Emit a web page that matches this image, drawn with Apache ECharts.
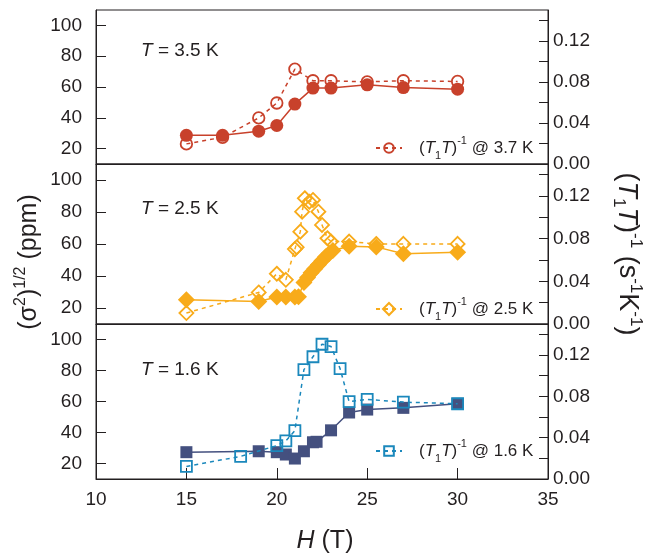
<!DOCTYPE html>
<html><head><meta charset="utf-8">
<script src="https://cdn.jsdelivr.net/npm/echarts@6/dist/echarts.min.js"></script>
<style>html,body{margin:0;padding:0;background:#fff}#c{width:666px;height:554px}</style>
</head><body><div id="c"></div>
<script>
// ---------- data ----------
const fieldTicks = [10, 15, 20, 25, 30, 35];
const sigmaTicks = [20, 40, 60, 80, 100];
const rateTicks = [0, 0.02, 0.04, 0.06, 0.08, 0.10, 0.12, 0.14];
const rateLabels = [0, 0.04, 0.08, 0.12];

// T = 3.5 K  (sigma, left axis) / 3.7 K (1/T1T, right axis)
const H_35K = [15, 17, 19, 20, 21, 22, 23, 25, 27, 30];
const sigma_35K = [28.6, 28.6, 31.3, 35.0, 48.9, 59.3, 59.3, 61.4, 59.6, 58.6];
const H_37K = [15, 17, 19, 20, 21, 22, 23, 25, 27, 30];
const rate_37K = [0.0196, 0.026, 0.0449, 0.0594, 0.0924, 0.0811, 0.0811, 0.080, 0.0811, 0.0804];

// T = 2.5 K
const H_25K = [15, 19, 20, 20.5, 21, 21.2, 21.5, 21.7, 21.9, 22.1, 22.3, 22.5, 22.7, 22.9, 23.1, 24, 25.5, 27, 30];
const sigma_25K = [25.2, 24.1, 26.9, 26.9, 26.9, 27.0, 36.0, 39.0, 42.0, 44.5, 47.0, 49.5, 52.0, 54.0, 56.0, 58.6, 58.2, 53.9, 54.9];
const H_25K_r = [15, 19, 20, 20.5, 21, 21.1, 21.3, 21.4, 21.55, 21.8, 22.0, 22.3, 22.5, 22.8, 23, 24, 25.5, 27, 30];
const rate_25K = [0.0103, 0.0296, 0.0471, 0.0414, 0.0702, 0.072, 0.0866, 0.1053, 0.1179, 0.1147, 0.1163, 0.1053, 0.0929, 0.0804, 0.0773, 0.0773, 0.075, 0.0751, 0.0751];

// T = 1.6 K
const H_16K = [15, 19, 20, 20.5, 21, 21.5, 22, 22.2, 23, 24, 25, 27, 30];
const sigma_16K = [27.3, 27.9, 27.3, 25.8, 23.2, 27.9, 33.7, 34.0, 41.4, 52.9, 54.8, 55.9, 58.5];
const H_16K_r = [15, 18, 20, 20.5, 21, 21.5, 22, 22.5, 23, 23.5, 24, 25, 27, 30];
const rate_16K = [0.0122, 0.0219, 0.0323, 0.0369, 0.0469, 0.1058, 0.1183, 0.1304, 0.1282, 0.1068, 0.0748, 0.077, 0.0744, 0.0728];

const panelTemps = ['3.5 K', '2.5 K', '1.6 K'];
const legendTemps = ['3.7 K', '2.5 K', '1.6 K'];

// ---------- styling ----------
const INK = '#231f20';
const FONT = '"Liberation Sans", Arial, Helvetica, sans-serif';
const colors = [
  { fill: '#c8412b', open: '#c8412b' },
  { fill: '#f8ab1a', open: '#f8ab1a' },
  { fill: '#44507f', open: '#1b88bc' }
];
const grids = [
  { left: 96, right: 118, top: 10, height: 154 },
  { left: 96, right: 118, top: 164, height: 160 },
  { left: 96, right: 118, top: 324, height: 155 }
];
const legendTops = [130, 291, 433];
const labelTops = [46, 204, 365];

const sets = [
  { H: H_35K, s: sigma_35K, Hr: H_37K, r: rate_37K, sym: 'circle', fs: 13, os: 11.5, li: 12, filledOnTop: true },
  { H: H_25K, s: sigma_25K, Hr: H_25K_r, r: rate_25K, sym: 'diamond', fs: 17, os: 14, li: 15, filledOnTop: true },
  { H: H_16K, s: sigma_16K, Hr: H_16K_r, r: rate_16K, sym: 'rect', fs: 12, os: 11, li: 12, filledOnTop: false }
];

const pair = (xs, ys) => xs.map((x, i) => [x, ys[i]]);
const richDefs = {
  i: { fontStyle: 'italic', fontSize: 17, fontFamily: FONT, color: INK, lineHeight: 26 },
  sub: { fontSize: 11, fontFamily: FONT, color: INK, verticalAlign: 'bottom', lineHeight: 11 },
  sup: { fontSize: 11, fontFamily: FONT, color: INK, verticalAlign: 'top', lineHeight: 11 }
};

const xAxes = [], yAxes = [], series = [], legends = [], titles = [];
grids.forEach((g, p) => {
  const bottom = p === 2;
  xAxes.push({
    type: 'value', gridIndex: p, min: 10, max: 35, interval: 5,
    axisLine: { show: true, lineStyle: { color: INK, width: 1 } },
    axisTick: { show: bottom, inside: true, length: 11, lineStyle: { color: INK } },
    axisLabel: { show: bottom, customValues: fieldTicks, fontSize: 19, fontFamily: FONT, color: INK, margin: 11 },
    splitLine: { show: false }
  });
  yAxes.push({
    type: 'value', gridIndex: p, position: 'left', min: 10, max: 110,
    axisLine: { show: true, lineStyle: { color: INK, width: 1 } },
    axisTick: { show: true, inside: true, length: 10, customValues: sigmaTicks, lineStyle: { color: INK } },
    axisLabel: { customValues: sigmaTicks, fontSize: 19, fontFamily: FONT, color: INK, margin: 14 },
    splitLine: { show: false }
  });
  yAxes.push({
    type: 'value', gridIndex: p, position: 'right', min: 0, max: 0.15,
    axisLine: { show: true, lineStyle: { color: INK, width: 1 } },
    axisTick: { show: true, inside: true, length: 9, customValues: rateTicks, lineStyle: { color: INK } },
    axisLabel: { customValues: rateLabels, formatter: v => v.toFixed(2), fontSize: 19, fontFamily: FONT, color: INK, margin: 5 },
    splitLine: { show: false }
  });
  const d = sets[p];
  const c = colors[p];
  const openName = '(T1T)-1 @ ' + legendTemps[p];
  const filled = {
    type: 'line', name: 'sigma ' + panelTemps[p], xAxisIndex: p, yAxisIndex: 2 * p,
    data: pair(d.H, d.s), symbol: d.sym, symbolSize: d.fs, showSymbol: true,
    lineStyle: { color: c.fill, width: 1.5 }, itemStyle: { color: c.fill },
    z: d.filledOnTop ? 4 : 3, animation: false
  };
  const open = {
    type: 'line', name: openName, xAxisIndex: p, yAxisIndex: 2 * p + 1,
    data: pair(d.Hr, d.r), symbol: d.sym, symbolSize: d.os, showSymbol: true,
    lineStyle: { color: c.open, width: 1.5, type: [4, 4] },
    itemStyle: { color: 'rgba(255,255,255,0)', borderColor: c.open, borderWidth: 1.8 },
    z: d.filledOnTop ? 3 : 4, animation: false
  };
  series.push(filled, open);
  legends.push({
    data: [openName], left: 370, top: legendTops[p], itemWidth: 26, itemHeight: d.li,
    selectedMode: false,
    formatter: () => '{pad|}({i|T}{sub|1}{i|T}){sup|-1} @ ' + legendTemps[p],
    textStyle: { fontSize: 17, fontFamily: FONT, color: INK, lineHeight: 26,
      rich: Object.assign({ pad: { width: 12 } }, richDefs) }
  });
  titles.push({
    text: '{i|T} = ' + panelTemps[p], left: 136, top: labelTops[p] - 13,
    textStyle: { fontSize: 19, fontWeight: 'normal', fontFamily: FONT, color: INK, lineHeight: 26,
      rich: { i: { fontStyle: 'italic', fontSize: 19, fontFamily: FONT, color: INK, lineHeight: 26 } } }
  });
});

const chart = echarts.init(document.getElementById('c'), null, { renderer: 'canvas' });
chart.setOption({
  backgroundColor: '#fff',
  animation: false,
  title: titles,
  legend: legends,
  grid: grids.map(g => Object.assign({ show: true, borderColor: INK, borderWidth: 1, backgroundColor: 'transparent' }, g)),
  xAxis: xAxes,
  yAxis: yAxes,
  series: series,
  graphic: [
    { type: 'text', x: 29, y: 262, rotation: Math.PI / 2,
      style: { text: '(σ{s|2}){s|1/2} (ppm)', align: 'center', verticalAlign: 'middle',
        fontSize: 25, fontFamily: FONT, fill: INK, lineHeight: 32,
        rich: { s: { fontSize: 16, fontFamily: FONT, fill: INK, verticalAlign: 'top', lineHeight: 15 } } } },
    { type: 'text', x: 627, y: 254, rotation: -Math.PI / 2,
      style: { text: '({i|T}{b|1}{i|T}){s|-1} (s{s|-1}K{s|-1})', align: 'center', verticalAlign: 'middle',
        fontSize: 27, fontFamily: FONT, fill: INK, lineHeight: 34,
        rich: {
          i: { fontStyle: 'italic', fontSize: 27, fontFamily: FONT, fill: INK, lineHeight: 34 },
          s: { fontSize: 17, fontFamily: FONT, fill: INK, verticalAlign: 'top', lineHeight: 16 },
          b: { fontSize: 17, fontFamily: FONT, fill: INK, verticalAlign: 'bottom', lineHeight: 16 }
        } } },
    { type: 'text', x: 325, y: 541,
      style: { text: '{i|H} (T)', align: 'center', verticalAlign: 'middle',
        fontSize: 25, fontFamily: FONT, fill: INK,
        rich: { i: { fontStyle: 'italic', fontSize: 25, fontFamily: FONT, fill: INK } } } }
  ]
});
</script>
</body></html>
